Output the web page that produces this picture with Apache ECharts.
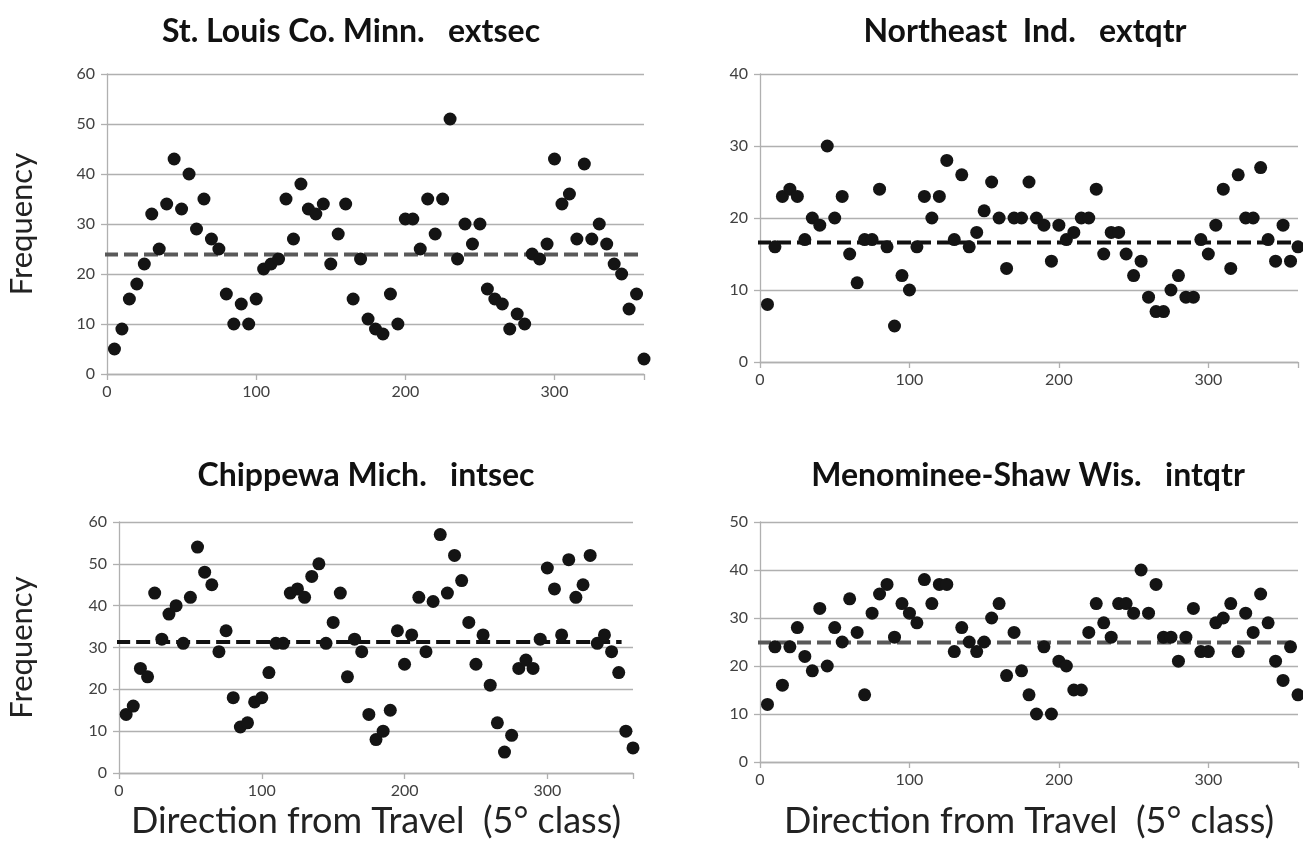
<!DOCTYPE html>
<html>
<head>
<meta charset="utf-8">
<script src="https://cdn.jsdelivr.net/npm/echarts@6/dist/echarts.min.js"></script>
<style>
  html, body { margin: 0; padding: 0; background: #fff; }
  #chart { width: 1303px; height: 858px; }
</style>
</head>
<body>
<div id="chart"></div>
<script>
// direction classes (5 degree)
const directions = [
  5, 10, 15, 20, 25, 30, 35, 40, 45, 50, 55, 60, 65, 70, 75, 80, 85, 90,
  95, 100, 105, 110, 115, 120, 125, 130, 135, 140, 145, 150, 155, 160, 165, 170, 175, 180,
  185, 190, 195, 200, 205, 210, 215, 220, 225, 230, 235, 240, 245, 250, 255, 260, 265, 270,
  275, 280, 285, 290, 295, 300, 305, 310, 315, 320, 325, 330, 335, 340, 345, 350, 355, 360
];

const stLouis = [
  5, 9, 15, 18, 22, 32, 25, 34, 43, 33, 40, 29, 35, 27, 25, 16, 10, 14,
  10, 15, 21, 22, 23, 35, 27, 38, 33, 32, 34, 22, 28, 34, 15, 23, 11, 9,
  8, 16, 10, 31, 31, 25, 35, 28, 35, 51, 23, 30, 26, 30, 17, 15, 14, 9,
  12, 10, 24, 23, 26, 43, 34, 36, 27, 42, 27, 30, 26, 22, 20, 13, 16, 3
];
const northeast = [
  8, 16, 23, 24, 23, 17, 20, 19, 30, 20, 23, 15, 11, 17, 17, 24, 16, 5,
  12, 10, 16, 23, 20, 23, 28, 17, 26, 16, 18, 21, 25, 20, 13, 20, 20, 25,
  20, 19, 14, 19, 17, 18, 20, 20, 24, 15, 18, 18, 15, 12, 14, 9, 7, 7,
  10, 12, 9, 9, 17, 15, 19, 24, 13, 26, 20, 20, 27, 17, 14, 19, 14, 16
];
const chippewa = [
  14, 16, 25, 23, 43, 32, 38, 40, 31, 42, 54, 48, 45, 29, 34, 18, 11, 12,
  17, 18, 24, 31, 31, 43, 44, 42, 47, 50, 31, 36, 43, 23, 32, 29, 14, 8,
  10, 15, 34, 26, 33, 42, 29, 41, 57, 43, 52, 46, 36, 26, 33, 21, 12, 5,
  9, 25, 27, 25, 32, 49, 44, 33, 51, 42, 45, 52, 31, 33, 29, 24, 10, 6
];
const menominee = [
  12, 24, 16, 24, 28, 22, 19, 32, 20, 28, 25, 34, 27, 14, 31, 35, 37, 26,
  33, 31, 29, 38, 33, 37, 37, 23, 28, 25, 23, 25, 30, 33, 18, 27, 19, 14,
  10, 24, 10, 21, 20, 15, 15, 27, 33, 29, 26, 33, 33, 31, 40, 31, 37, 26,
  26, 21, 26, 32, 23, 23, 29, 30, 33, 23, 31, 27, 35, 29, 21, 17, 24, 14
];

// dashed mean levels
const meanLevels = [23.9, 16.6, 31.3, 24.9];
const meanEnds = [358, 356, 352, 356];
const yMax = [60, 40, 60, 50];
const titles = [
  'St. Louis Co. Minn.   extsec',
  'Northeast  Ind.   extqtr',
  'Chippewa Mich.   intsec',
  'Menominee-Shaw Wis.   intqtr'
];

const FONT = 'Lato, "Open Sans", sans-serif';
const panels = [stLouis, northeast, chippewa, menominee];
const meanColors = ['#595959', '#111111', '#111111', '#595959'];

const grids = [
  { left: 107, top: 74, width: 537, height: 300 },
  { left: 760, top: 74, width: 538, height: 288 },
  { left: 119, top: 522, width: 514, height: 251 },
  { left: 760, top: 522, width: 538, height: 240 }
];

const gridLine = { lineStyle: { color: '#b0b0b0', width: 1.3 } };

const xAxes = grids.map((g, i) => ({
  type: 'value',
  gridIndex: i,
  min: 0,
  max: 360,
  interval: 100,
  splitLine: { show: false },
  axisLine: { show: true, lineStyle: { color: '#b0b0b0', width: 1.3 } },
  axisTick: { show: true, length: 6, lineStyle: { color: '#b0b0b0', width: 1.3 } },
  axisLabel: {
    color: '#404040', fontSize: 16, fontFamily: FONT, margin: 10,
    formatter: v => (v % 100 === 0 ? String(v) : '')
  },
  name: i >= 2 ? 'Direction from Travel  (5\u00B0 class)' : '',
  nameLocation: 'middle',
  nameGap: i === 2 ? 30 : 41,
  nameTextStyle: { color: '#222', fontSize: 36, fontFamily: FONT }
}));

const yAxes = grids.map((g, i) => ({
  type: 'value',
  gridIndex: i,
  min: 0,
  max: yMax[i],
  interval: 10,
  splitLine: { show: true, ...gridLine },
  axisLine: { show: true, lineStyle: { color: '#b0b0b0', width: 1.3 } },
  axisTick: { show: true, length: 6, lineStyle: { color: '#b0b0b0', width: 1.3 } },
  axisLabel: { color: '#404040', fontSize: 16, fontFamily: FONT, margin: 12 },
  name: i % 2 === 0 ? 'Frequency' : '',
  nameLocation: 'middle',
  nameRotate: 90,
  nameGap: i === 0 ? 70 : 82,
  nameTextStyle: { color: '#222', fontSize: 31, fontFamily: FONT }
}));

const series = [];
panels.forEach((vals, i) => {
  series.push({
    type: 'line',
    xAxisIndex: i,
    yAxisIndex: i,
    data: [[-2, meanLevels[i]], [meanEnds[i], meanLevels[i]]],
    symbol: 'none',
    silent: true,
    z: 2,
    lineStyle: { color: meanColors[i], width: 4, type: [14, 6] }
  });
  series.push({
    type: 'scatter',
    xAxisIndex: i,
    yAxisIndex: i,
    data: directions.map((d, k) => [d, vals[k]]),
    symbol: 'circle',
    symbolSize: 13,
    z: 5,
    itemStyle: { color: '#141414', opacity: 1 }
  });
});

const titlePos = [[351, 32], [1025, 32], [366, 476], [1028, 476]];

const chart = echarts.init(document.getElementById('chart'));
chart.setOption({
  animation: false,
  backgroundColor: '#fff',
  grid: grids,
  xAxis: xAxes,
  yAxis: yAxes,
  series: series,
  graphic: titles.map((t, i) => ({
    type: 'text',
    x: titlePos[i][0],
    y: titlePos[i][1],
    style: {
      text: t,
      fill: '#111',
      font: 'bold 32px ' + FONT,
      textAlign: 'center',
      textVerticalAlign: 'middle'
    }
  }))
});
</script>
</body>
</html>
